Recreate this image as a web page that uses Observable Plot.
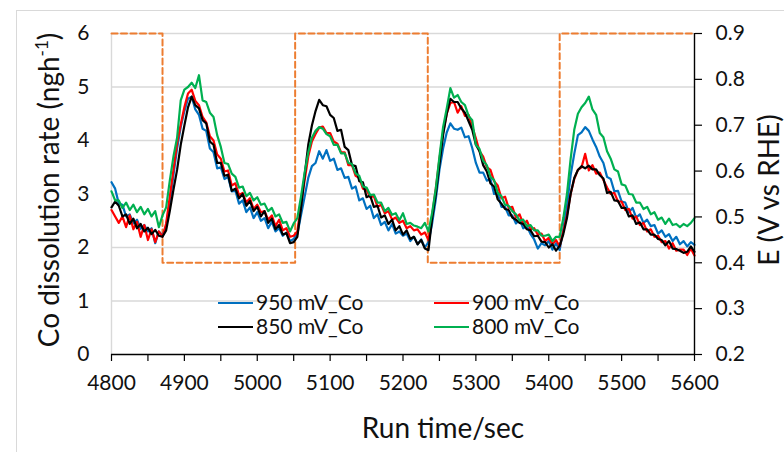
<!DOCTYPE html>
<html>
<head>
<meta charset="utf-8">
<script src="https://cdn.jsdelivr.net/npm/d3@7"></script>
<script src="https://cdn.jsdelivr.net/npm/@observablehq/plot@0.6"></script>
<style>
  body { margin: 0; background: #fff; }
  #chart { position: relative; width: 784px; height: 452px; overflow: hidden; font-family: Lato, sans-serif; }
  #frame { position: absolute; left: 16px; top: 10px; width: 900px; height: 600px; border: 1px solid #d9d9d9; }
  #chart svg { position: absolute; left: 0; top: 0; }
</style>
</head>
<body>
<div id="chart"><div id="frame"></div></div>
<script>
// Sampling grid of the ICP-MS trace (s), one reading every 5 s
const runTimes = d3.range(4800, 5601, 5);

// Co dissolution rate (ng h^-1) for each upper potential limit
const rate950 = [
  3.22, 3.10, 2.82, 2.80, 2.58, 2.62, 2.45, 2.52, 2.35, 2.42,
  2.30, 2.36, 2.08, 2.30, 2.22, 2.40, 2.85, 3.35, 3.85, 4.25,
  4.55, 4.78, 4.82, 4.58, 4.48, 4.22, 4.18, 3.85, 3.78, 3.48,
  3.50, 3.28, 3.32, 3.05, 3.06, 2.82, 2.88, 2.66, 2.75, 2.55,
  2.66, 2.50, 2.55, 2.36, 2.48, 2.30, 2.36, 2.22, 2.28, 2.12,
  2.16, 2.25, 2.60, 2.95, 3.30, 3.52, 3.58, 3.80, 3.66, 3.82,
  3.62, 3.66, 3.45, 3.48, 3.30, 3.32, 3.10, 3.14, 2.88, 2.92,
  2.72, 2.78, 2.55, 2.62, 2.42, 2.48, 2.32, 2.44, 2.26, 2.30,
  2.22, 2.26, 2.12, 2.20, 2.06, 2.15, 2.00, 2.10, 2.45, 2.90,
  3.45, 3.85, 4.15, 4.32, 4.22, 4.20, 4.24, 4.06, 4.08, 3.86,
  3.58, 3.40, 3.40, 3.25, 3.28, 3.00, 3.02, 2.76, 2.76, 2.60,
  2.60, 2.45, 2.52, 2.36, 2.40, 2.25, 2.15, 1.98, 2.08, 2.04,
  2.12, 1.96, 2.08, 1.95, 2.35, 2.78, 3.35, 3.75, 4.10, 4.15,
  4.25, 4.18, 4.02, 3.88, 3.70, 3.58, 3.32, 3.28, 3.05, 3.06,
  2.86, 2.84, 2.66, 2.74, 2.56, 2.62, 2.46, 2.52, 2.40, 2.42,
  2.26, 2.32, 2.20, 2.25, 2.12, 2.20, 2.06, 2.12, 2.02, 2.10,
  2.05
];
const rate900 = [
  2.70, 2.58, 2.46, 2.58, 2.38, 2.60, 2.34, 2.48, 2.20, 2.42,
  2.14, 2.34, 2.10, 2.30, 2.20, 2.45, 2.95, 3.45, 3.95, 4.30,
  4.62, 4.88, 4.95, 4.74, 4.66, 4.44, 4.34, 4.08, 4.00, 3.74,
  3.66, 3.42, 3.44, 3.16, 3.20, 2.98, 3.02, 2.84, 2.92, 2.72,
  2.80, 2.66, 2.68, 2.52, 2.60, 2.40, 2.52, 2.32, 2.36, 2.20,
  2.22, 2.30, 2.80, 3.25, 3.70, 3.98, 4.12, 4.24, 4.26, 4.14,
  4.14, 3.98, 3.94, 3.78, 3.78, 3.54, 3.54, 3.34, 3.30, 3.10,
  3.08, 2.94, 2.96, 2.76, 2.80, 2.64, 2.68, 2.52, 2.56, 2.46,
  2.50, 2.36, 2.40, 2.32, 2.34, 2.24, 2.28, 2.14, 2.60, 3.10,
  3.65, 4.15, 4.50, 4.70, 4.72, 4.52, 4.64, 4.46, 4.48, 4.26,
  4.04, 3.80, 3.70, 3.50, 3.45, 3.24, 3.16, 2.92, 2.95, 2.74,
  2.76, 2.56, 2.62, 2.44, 2.50, 2.34, 2.36, 2.24, 2.26, 2.12,
  2.18, 2.06, 2.14, 2.02, 2.30, 2.60, 3.00, 3.28, 3.45, 3.50,
  3.75, 3.44, 3.54, 3.38, 3.40, 3.26, 3.12, 3.00, 3.02, 2.86,
  2.86, 2.70, 2.72, 2.54, 2.58, 2.42, 2.46, 2.30, 2.34, 2.20,
  2.22, 2.10, 2.12, 1.98, 2.08, 1.94, 1.96, 1.96, 1.86, 1.98,
  1.85
];
const rate850 = [
  2.75, 2.86, 2.78, 2.58, 2.62, 2.44, 2.54, 2.36, 2.44, 2.30,
  2.37, 2.25, 2.33, 2.22, 2.20, 2.32, 2.68, 3.08, 3.45, 3.92,
  4.28, 4.62, 4.82, 4.66, 4.60, 4.38, 4.32, 3.98, 3.92, 3.58,
  3.58, 3.34, 3.36, 3.06, 3.10, 2.92, 3.00, 2.78, 2.87, 2.68,
  2.76, 2.58, 2.68, 2.46, 2.54, 2.34, 2.42, 2.24, 2.27, 2.08,
  2.10, 2.20, 2.72, 3.35, 3.92, 4.28, 4.55, 4.76, 4.66, 4.64,
  4.48, 4.42, 4.18, 4.20, 3.88, 3.82, 3.54, 3.52, 3.24, 3.22,
  2.94, 2.97, 2.76, 2.78, 2.56, 2.60, 2.44, 2.52, 2.32, 2.40,
  2.24, 2.32, 2.16, 2.20, 2.06, 2.14, 1.98, 1.95, 2.55, 3.00,
  3.55, 4.10, 4.50, 4.78, 4.72, 4.72, 4.60, 4.52, 4.36, 4.20,
  3.92, 3.80, 3.54, 3.42, 3.20, 3.14, 2.90, 2.82, 2.72, 2.70,
  2.56, 2.52, 2.46, 2.44, 2.34, 2.32, 2.21, 2.22, 2.11, 2.10,
  2.00, 2.06, 1.94, 2.03, 2.25, 2.55, 3.00, 3.30, 3.45, 3.52,
  3.48, 3.53, 3.46, 3.46, 3.35, 3.29, 3.02, 3.04, 2.88, 2.87,
  2.74, 2.74, 2.58, 2.60, 2.44, 2.47, 2.34, 2.34, 2.24, 2.24,
  2.16, 2.14, 2.04, 2.12, 1.98, 1.97, 1.94, 1.90, 1.92, 2.02,
  1.92
];
const rate800 = [
  3.05, 2.88, 2.88, 2.74, 2.84, 2.70, 2.80, 2.66, 2.76, 2.62,
  2.72, 2.58, 2.68, 2.38, 2.60, 2.75, 3.25, 3.70, 4.05, 4.75,
  4.95, 5.00, 5.08, 4.98, 5.22, 4.75, 4.72, 4.52, 4.44, 4.10,
  3.88, 3.58, 3.56, 3.38, 3.32, 3.12, 3.14, 2.96, 3.02, 2.88,
  2.94, 2.80, 2.82, 2.68, 2.74, 2.58, 2.62, 2.46, 2.48, 2.30,
  2.45, 2.55, 2.95, 3.40, 3.78, 4.05, 4.18, 4.25, 4.22, 4.12,
  4.08, 3.92, 3.92, 3.76, 3.76, 3.58, 3.56, 3.38, 3.34, 3.14,
  3.12, 2.98, 2.99, 2.84, 2.84, 2.68, 2.74, 2.61, 2.64, 2.51,
  2.64, 2.44, 2.46, 2.41, 2.39, 2.36, 2.46, 2.30, 2.65, 3.10,
  3.70, 4.25, 4.60, 4.98, 4.80, 4.85, 4.72, 4.66, 4.46, 4.38,
  3.92, 3.84, 3.62, 3.54, 3.32, 3.26, 3.02, 2.96, 2.80, 2.78,
  2.68, 2.62, 2.50, 2.52, 2.40, 2.42, 2.32, 2.32, 2.22, 2.22,
  2.24, 2.12, 2.20, 2.20, 2.55, 3.00, 3.65, 4.20, 4.50, 4.62,
  4.70, 4.82, 4.58, 4.48, 4.14, 4.06, 3.80, 3.66, 3.46, 3.42,
  3.18, 3.16, 3.00, 2.99, 2.84, 2.84, 2.72, 2.76, 2.62, 2.66,
  2.52, 2.56, 2.44, 2.54, 2.42, 2.44, 2.38, 2.44, 2.40, 2.46,
  2.55
];

// Applied potential program (V vs RHE), square wave between 0.4 and 0.9 V
const stepTimes = [4800, 4870, 5052, 5234, 5415, 5600];
const stepPotential = [0.9, 0.4, 0.9, 0.4, 0.9, 0.9];

// Axis ticks
const timeTicks = d3.range(4800, 5601, 50);
const rateTicks = [0, 1, 2, 3, 4, 5, 6];
const potentialTicks = [0.2, 0.3, 0.4, 0.5, 0.6, 0.7, 0.8, 0.9];

const seriesNames = ["950 mV_Co", "900 mV_Co", "850 mV_Co", "800 mV_Co"];
const seriesColors = ["#0070C0", "#FF0000", "#000000", "#00B050"];
const seriesValues = [rate950, rate900, rate850, rate800];

// Secondary axis (potential) mapped onto the primary rate range
const toRate = d3.scaleLinear([0.2, 0.9], [0, 6]);

const stepData = stepTimes.map((t, i) => ({t, E: stepPotential[i]}));
const traces = seriesValues.map(vals => runTimes.map((t, i) => ({t, rate: vals[i]})));

const gray = "#d9d9d9";
const ink = "#111";

const plot = Plot.plot({
  width: 784,
  height: 452,
  marginLeft: 111,
  marginRight: 90,
  marginTop: 33,
  marginBottom: 98,
  style: {fontFamily: "Lato, sans-serif", background: "transparent", color: ink},
  x: {domain: [4800, 5600], label: null},
  y: {domain: [0, 6], label: null},
  marks: [
    Plot.gridY(rateTicks.filter(d => d > 0), {stroke: gray, strokeOpacity: 1, strokeWidth: 1.4}),
    Plot.ruleX([4800], {stroke: gray, strokeWidth: 1.4}),
    Plot.line(stepData, {
      x: "t", y: d => toRate(d.E), curve: "step-after",
      stroke: "#ED7D31", strokeWidth: 2, strokeDasharray: "6,3.5"
    }),
    ...traces.map((data, k) => Plot.line(data, {
      x: "t", y: "rate", stroke: seriesColors[k], strokeWidth: 2.2, strokeLinejoin: "round"
    })),
    Plot.ruleY([0], {stroke: "#000", strokeWidth: 1.4}),
    Plot.ruleX([5600], {stroke: "#000", strokeWidth: 1.4}),
    Plot.axisX({
      ticks: timeTicks, tickFormat: d => (d % 100 === 0 ? String(d) : ""),
      tickSize: 7, tickPadding: 14, fontSize: 21, stroke: "#000", strokeWidth: 1.2, label: null
    }),
    Plot.axisY({ticks: rateTicks, tickFormat: d => String(d), tickSize: 0, tickPadding: 22, fontSize: 21, label: null}),
    Plot.axisY({
      ticks: potentialTicks.map(toRate), anchor: "right",
      tickFormat: d => toRate.invert(d).toFixed(1),
      tickSize: 7, tickPadding: 14, fontSize: 21, stroke: "#000", strokeWidth: 1.2, label: null
    })
  ]
});

document.getElementById("chart").appendChild(plot);

// Axis titles and legend
const svg = d3.select(plot);

svg.append("text")
  .attr("x", 443).attr("y", 438)
  .attr("text-anchor", "middle")
  .attr("font-size", 28).attr("fill", ink)
  .text("Run time/sec");

const leftTitle = svg.append("text")
  .attr("transform", "translate(59,190) rotate(-90)")
  .attr("text-anchor", "middle")
  .attr("font-size", 28).attr("fill", ink);
leftTitle.append("tspan").text("Co dissolution rate (ngh");
leftTitle.append("tspan").attr("font-size", 17).attr("dy", -11).text("-1");
leftTitle.append("tspan").attr("dy", 11).text(")");

svg.append("text")
  .attr("transform", "translate(779,190) rotate(-90)")
  .attr("text-anchor", "middle")
  .attr("font-size", 28).attr("fill", ink)
  .text("E (V vs RHE)");

const legendRows = [303, 327];
const legendCols = [218, 434];
seriesNames.forEach((name, k) => {
  const lx = legendCols[k % 2];
  const ly = legendRows[Math.floor(k / 2)];
  svg.append("line")
    .attr("x1", lx).attr("x2", lx + 35).attr("y1", ly).attr("y2", ly)
    .attr("stroke", seriesColors[k]).attr("stroke-width", 2.2);
  svg.append("text")
    .attr("x", lx + 38).attr("y", ly).attr("dy", "0.35em")
    .attr("text-anchor", "start")
    .attr("font-size", 21).attr("fill", ink)
    .text(name);
});
</script>
</body>
</html>
